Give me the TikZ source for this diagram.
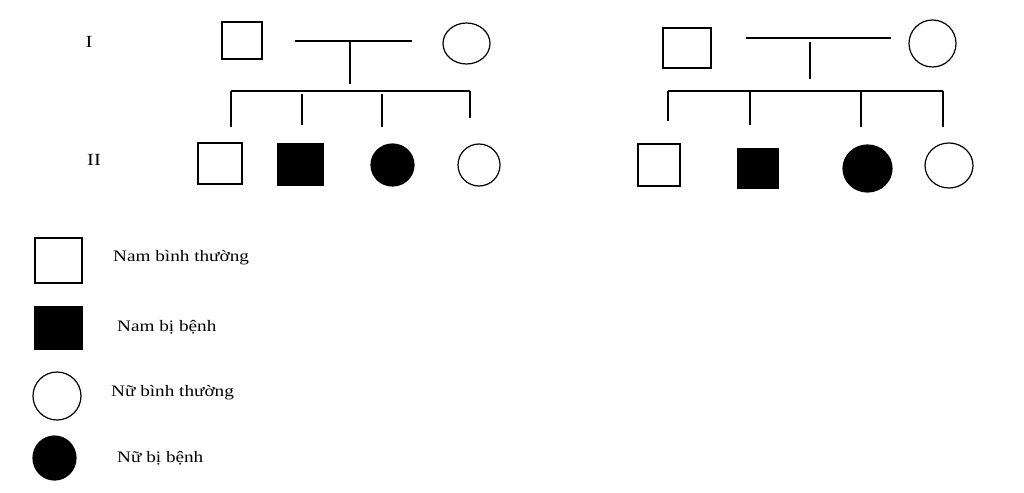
\documentclass[tikz,border=0pt]{standalone}
\usepackage{fontspec}
\setmainfont{Liberation Serif}
\usetikzlibrary{shapes.geometric}
\tikzset{
  pline/.style={line width=1.2pt},
  male/.style={draw, rectangle, inner sep=0pt, line width=1.2pt},
  female/.style={draw, ellipse, inner sep=0pt, line width=1.2pt},
  affected/.style={fill=black},
  lbl/.style={anchor=west, inner sep=0pt, font=\fontsize{16}{18}\selectfont},
  gen/.style={inner sep=0pt, font=\fontsize{17}{19}\selectfont}
}
\newcommand{\wide}[1]{\scalebox{1.2}[1]{#1}}
\begin{document}
\begin{tikzpicture}[x=1pt,y=-1pt]
\useasboundingbox (0,0) rectangle (1024,492);
\fill[white] (0,0) rectangle (1024,492);
% generation labels
\node[gen] (gI) at (89,42) {\wide{I}};
\node[gen] (gII) at (94,160) {\wide{II}};
% ---------- left family ----------
\node[male, minimum width=40, minimum height=37] (L1m) at (242,40.5) {};
\node[female, minimum width=47, minimum height=41] (L1f) at (466.5,43.5) {};
\coordinate (Lma) at (295,41);
\coordinate (Lmb) at (412,41);
\coordinate (Lmc) at (350,41);
\coordinate (Lmd) at (350,84);
\draw[pline] (Lma) -- (Lmb);
\draw[pline] (Lmc) -- (Lmd);
\coordinate (Lsa) at (231,91);
\coordinate (Lsb) at (470,91);
\draw[pline] (Lsa) -- (Lsb);
\node[male, minimum width=44, minimum height=41] (L2a) at (220,163.5) {};
\node[male, affected, minimum width=45, minimum height=41] (L2b) at (300.5,164.5) {};
\node[female, affected, minimum width=43, minimum height=42] (L2c) at (392.5,165) {};
\node[female, minimum width=42, minimum height=42] (L2d) at (479,165) {};
\coordinate (Lda) at (231,127);
\coordinate (Ldb1) at (302,94);
\coordinate (Ldb) at (302,125);
\coordinate (Ldc1) at (382,94);
\coordinate (Ldc) at (382,127);
\coordinate (Ldd) at (470,118);
\draw[pline] (Lsa) -- (Lda);
\draw[pline] (Ldb1) -- (Ldb);
\draw[pline] (Ldc1) -- (Ldc);
\draw[pline] (Lsb) -- (Ldd);
% ---------- right family ----------
\node[male, minimum width=48, minimum height=40] (R1m) at (687,48) {};
\node[female, minimum width=47, minimum height=47] (R1f) at (932.5,43.5) {};
\coordinate (Rma) at (746,38);
\coordinate (Rmb) at (891,38);
\coordinate (Rmc) at (810,42);
\coordinate (Rmd) at (810,79);
\draw[pline] (Rma) -- (Rmb);
\draw[pline] (Rmc) -- (Rmd);
\coordinate (Rsa) at (668,91);
\coordinate (Rsb) at (943,91);
\coordinate (Rsc) at (750,91);
\coordinate (Rse) at (861,91);
\draw[pline] (Rsa) -- (Rsb);
\node[male, minimum width=42, minimum height=42] (R2a) at (659,165) {};
\node[male, affected, minimum width=40, minimum height=39] (R2b) at (758,168.5) {};
\node[female, affected, minimum width=49, minimum height=47] (R2c) at (867.5,168.5) {};
\node[female, minimum width=48, minimum height=45] (R2d) at (949,165.5) {};
\coordinate (Rda) at (668,121);
\coordinate (Rdb) at (750,125);
\coordinate (Rdc) at (861,127);
\coordinate (Rdd) at (943,127);
\draw[pline] (Rsa) -- (Rda);
\draw[pline] (Rsc) -- (Rdb);
\draw[pline] (Rse) -- (Rdc);
\draw[pline] (Rsb) -- (Rdd);
% ---------- legend ----------
\node[male, minimum width=47, minimum height=45] (K1) at (58.5,260.5) {};
\node[lbl] (T1) at (113,258) {\wide{Nam bình thường}};
\node[male, affected, minimum width=47, minimum height=42] (K2) at (58.5,328) {};
\node[lbl] (T2) at (117,327) {\wide{Nam bị bệnh}};
\node[female, minimum width=48, minimum height=48] (K3) at (57,396) {};
\node[lbl] (T3) at (111,393) {\wide{Nữ bình thường}};
\node[female, affected, minimum width=43, minimum height=44] (K4) at (54.5,458) {};
\node[lbl] (T4) at (117,458) {\wide{Nữ bị bệnh}};
\end{tikzpicture}
\end{document}
